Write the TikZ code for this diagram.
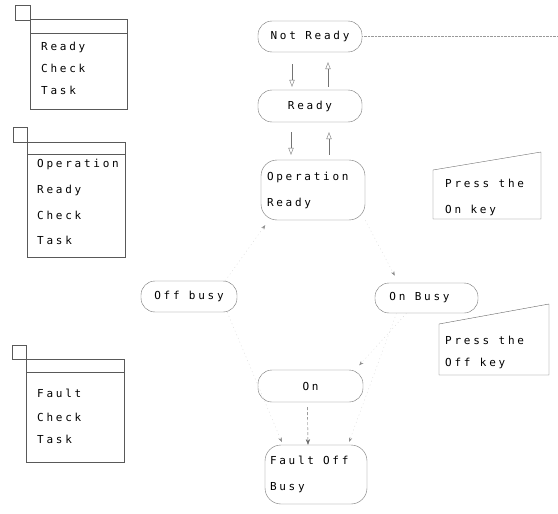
\documentclass[tikz,border=0pt]{standalone}
\usepackage{fontspec}
\newfontfamily\dotfont[LetterSpace=25]{DejaVu Sans Mono}
\usetikzlibrary{arrows.meta,positioning,calc}
\tikzset{
	statebox/.style={rectangle, draw=black!55, rounded corners=14pt, font=\dotfont\fontsize{11}{26}\selectfont,
		inner sep=0pt, align=center},
	menubox/.style={rectangle, draw=black!65, thin},
	menuitem/.style={anchor=base west, inner sep=0pt, font=\dotfont\fontsize{11}{13}\selectfont},
	noteline/.style={draw=black!60, thin},
	flowarr/.style={-{Triangle[open,length=2.4mm,width=1.8mm]}, draw=black!55, thin},
	dasharr/.style={-{Stealth[length=2mm]}, draw=black!60, densely dashed},
	faintarr/.style={-{Stealth[length=1.6mm,black!45]}, draw=black!15, dash pattern=on 1pt off 3pt}
}
\begin{document}
\begin{tikzpicture}[x=1pt,y=-1pt]
	\useasboundingbox (0,0) rectangle (558,514);
	% menu panels on the left
	\draw[menubox] (15,5) rectangle (30,20);
	\draw[menubox] (30,19) rectangle (127,109);
	\draw[menubox] (30,33) -- (127,33);
	\foreach \txt/\y [count=\i] in {Ready/50, Check/72, Task/94}
		\node[menuitem] (menuA-\i) at (41,\y) {\txt};
	\draw[menubox] (13,127) rectangle (27,142);
	\draw[menubox] (27,142) rectangle (125,257);
	\draw[menubox] (27,154) -- (125,154);
	\foreach \txt/\y [count=\i] in {Operation/167, Ready/193, Check/219, Task/244}
		\node[menuitem] (menuB-\i) at (37,\y) {\txt};
	\draw[menubox] (12,345) rectangle (26,359);
	\draw[menubox] (26,359) rectangle (124,462);
	\draw[menubox] (26,372) -- (124,372);
	\foreach \txt/\y [count=\i] in {Fault/397, Check/421, Task/443}
		\node[menuitem] (menuC-\i) at (37,\y) {\txt};

	% states
	\node[statebox, minimum width=104pt, minimum height=31pt] (notready) at (310,36.5) {Not Ready};
	\node[statebox, minimum width=104pt, minimum height=32pt] (ready) at (310,106) {Ready};
	\node[statebox, minimum width=104pt, minimum height=60pt, rounded corners=16pt,
		text width=92pt, align=left] (opready) at (313,190) {Operation\\Ready};
	\node[statebox, minimum width=96pt, minimum height=31pt] (offbusy) at (189,296.5) {Off busy};
	\node[statebox, minimum width=103pt, minimum height=30pt] (onbusy) at (426.5,298) {On Busy\hspace{14pt}};
	\node[statebox, minimum width=105pt, minimum height=32pt] (on) at (310.5,386) {On};
	\node[statebox, minimum width=102pt, minimum height=59pt, rounded corners=16pt,
		text width=92pt, align=left] (faultoff) at (316,474.5) {Fault\hspace{9pt}Off\\Busy};

	% key notes
	\draw[noteline] (433,170) -- (541,152) -- (541,219) -- (433,219) -- cycle;
	\node[menuitem] (onkey-1) at (445,187) {Press the};
	\node[menuitem] (onkey-2) at (445,213) {On key};
	\draw[noteline] (439,324) -- (549,304) -- (549,375) -- (439,375) -- cycle;
	\node[menuitem] (offkey-1) at (445,344) {Press the};
	\node[menuitem] (offkey-2) at (445,366) {Off key};

	\draw[draw=black!40, densely dotted] (notready.east) -- (558,36.5);
	\draw[flowarr, shorten <=12pt, shorten >=3pt] ([xshift=-18pt]notready.south) -- ([xshift=-18pt]ready.north);
	\draw[flowarr, shorten <=3pt, shorten >=10pt] ([xshift=18pt]ready.north) -- ([xshift=18pt]notready.south);
	\draw[flowarr, shorten <=10pt, shorten >=5pt] ([xshift=-19pt]ready.south) -- ([xshift=-22pt]opready.north);
	\draw[flowarr, shorten <=5pt, shorten >=10pt] ([xshift=16pt]opready.north) -- ([xshift=19pt]ready.south);
	\draw[dasharr, shorten <=5pt] ([xshift=-3pt]on.south) -- ([xshift=-8pt]faultoff.north);

	\draw[faintarr, shorten >=6pt] ([xshift=-12pt]offbusy.north east) -- ([xshift=8pt]opready.south west);
	\draw[faintarr, shorten >=8pt] (opready.south east) -- ([xshift=-28pt]onbusy.north);
	\draw[faintarr, shorten >=6pt] ([xshift=-20pt]onbusy.south) -- ([xshift=-8pt]on.north east);
	\draw[faintarr, shorten >=3pt] ([xshift=-10pt]offbusy.south east) -- ([xshift=-33pt]faultoff.north);
	\draw[faintarr, shorten >=3pt] ([xshift=-30pt]onbusy.south) -- ([xshift=32pt]faultoff.north);
\end{tikzpicture}
\end{document}
